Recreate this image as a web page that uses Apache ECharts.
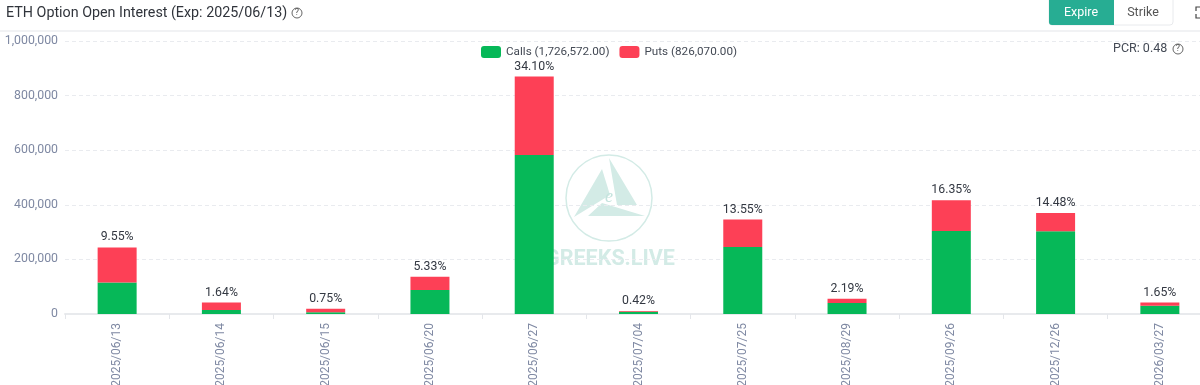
<!DOCTYPE html>
<html><head><meta charset="utf-8">
<style>html,body{margin:0;padding:0;background:#fff}#c{width:1200px;height:385px}</style>
<script src="https://cdn.jsdelivr.net/npm/echarts@6/dist/echarts.min.js"></script>
</head><body><div id="c"></div>
<script>
const categories=['2025/06/13','2025/06/14','2025/06/15','2025/06/20','2025/06/27','2025/07/04','2025/07/25','2025/08/29','2025/09/26','2025/12/26','2026/03/27'];
const calls=[115000,15000,6000,88000,582000,8000,245000,40000,304000,303000,30000];
const puts=[129000,27000,13000,48000,288000,3000,101000,16000,113000,67000,12000];
const shares=['9.55%','1.64%','0.75%','5.33%','34.10%','0.42%','13.55%','2.19%','16.35%','14.48%','1.65%'];
const callsName='Calls (1,726,572.00)', putsName='Puts (826,070.00)';
const FONT='Roboto, sans-serif';
const chart=echarts.init(document.getElementById('c'),null,{renderer:'canvas'});
const wm='#d3ebe6';
function qmark(cx,cy,r){return [
 {type:'circle',shape:{cx,cy,r},style:{fill:'none',stroke:'#555',lineWidth:0.9}},
 {type:'text',x:cx,y:cy,style:{text:'?',fill:'#555',font:'9px '+FONT,align:'center',verticalAlign:'middle'}}];}
chart.setOption({
 animation:false,
 textStyle:{fontFamily:FONT},
 grid:{left:65,top:41,width:1147,height:273,outerBoundsMode:'none'},
 legend:{top:41,left:476,itemWidth:20,itemHeight:12,itemGap:10,icon:'roundRect',selectedMode:false,
  textStyle:{color:'#444a55',fontSize:11.7,fontFamily:FONT},data:[callsName,putsName]},
 xAxis:{type:'category',data:categories,axisTick:{show:true,length:5,lineStyle:{color:'#e4e6ea'}},
  axisLine:{lineStyle:{color:'#e8eaed',width:2}},
  axisLabel:{rotate:90,color:'#7f89a3',fontSize:12,margin:9,interval:0}},
 yAxis:{type:'value',min:0,max:1000000,interval:200000,
  axisLine:{show:false},axisTick:{show:false},
  axisLabel:{color:'#7f89a3',fontSize:12.3,margin:7,formatter:v=>v.toLocaleString('en-US')},
  splitLine:{lineStyle:{color:'#e9ebef',type:[4,3],width:1}}},
 series:[
  {name:callsName,type:'bar',stack:'t',barWidth:39,data:calls,itemStyle:{color:'#06b858'},z:3},
  {name:putsName,type:'bar',stack:'t',barWidth:39,data:puts,itemStyle:{color:'#fd4056'},z:3,
   label:{show:true,position:'top',distance:4,color:'#333842',fontSize:12.3,formatter:p=>shares[p.dataIndex]}}
 ],
 graphic:{elements:[
  {type:'group',silent:true,z:1,children:[
   {type:'circle',shape:{cx:609,cy:198,r:43},style:{fill:'none',stroke:wm,lineWidth:1.5}},
   {type:'polygon',shape:{points:[[574,217],[602,169],[610,195]]},style:{fill:wm}},
   {type:'polygon',shape:{points:[[609,158],[637,205],[617,205]]},style:{fill:wm}},
   {type:'polygon',shape:{points:[[588,216],[602,203],[645,216]]},style:{fill:wm}},
   {type:'text',x:609,y:197,style:{text:'e',fill:'#c4e3dd',font:'italic 18px serif',align:'center',verticalAlign:'middle'}},
   {type:'text',x:610,y:260,style:{text:'GREEKS.LIVE',fill:wm,font:'bold 21.5px '+FONT,align:'center',verticalAlign:'middle'}}
  ]},
  {type:'rect',shape:{x:0,y:30,width:1200,height:2},style:{fill:'#f1f2f4'}},
  {type:'text',x:6,y:13,style:{text:'ETH Option Open Interest (Exp: 2025/06/13)',fill:'#30343b',font:'14.3px '+FONT,verticalAlign:'middle'}},
  ...qmark(297,13,5),
  {type:'rect',shape:{x:1049,y:-4,width:124,height:29,r:3},style:{fill:'#fff',stroke:'#e8eaed',lineWidth:1}},
  {type:'rect',shape:{x:1049,y:-4,width:65,height:29,r:[3,0,0,3]},style:{fill:'#27ad93'}},
  {type:'text',x:1081,y:13,style:{text:'Expire',fill:'#fff',font:'12.5px '+FONT,align:'center',verticalAlign:'middle'}},
  {type:'text',x:1143,y:13,style:{text:'Strike',fill:'#555',font:'12.5px '+FONT,align:'center',verticalAlign:'middle'}},
  {type:'polyline',shape:{points:[[1200,7],[1196,7],[1196,11]]},style:{fill:'none',stroke:'#444',lineWidth:1.2}},
  {type:'polyline',shape:{points:[[1196,14],[1196,18],[1200,18]]},style:{fill:'none',stroke:'#444',lineWidth:1.2}},
  {type:'text',x:1113,y:49,style:{text:'PCR: 0.48',fill:'#444a55',font:'12.5px '+FONT,verticalAlign:'middle'}},
  ...qmark(1178,49,5)
 ]}
});
</script></body></html>
